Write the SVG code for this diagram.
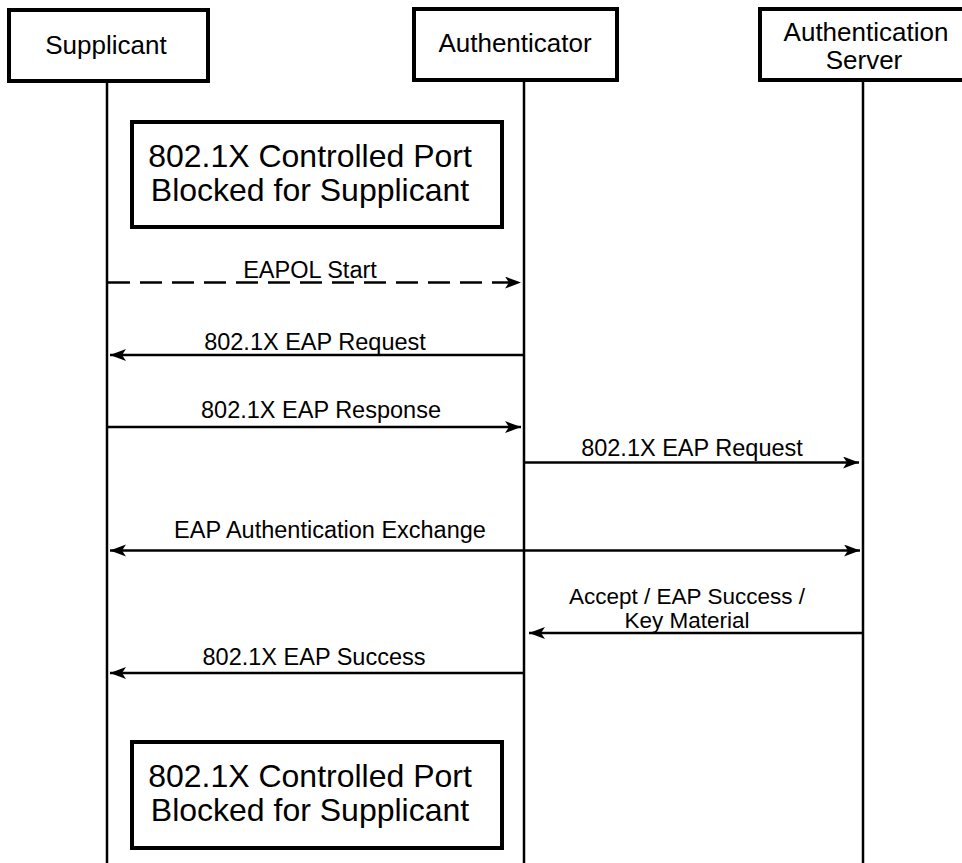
<svg xmlns="http://www.w3.org/2000/svg" width="962" height="863" viewBox="0 0 962 863">
  <style>
    .box { fill: #ffffff; stroke: #000000; stroke-width: 4; }
    .life { stroke: #000000; stroke-width: 2.5; fill: none; }
    .msg { stroke: #000000; stroke-width: 2.5; fill: none; }
    .dash { stroke-dasharray: 22 10; }
    .hdr { font-family: "Liberation Sans", Arial, sans-serif; font-size: 26px; fill: #000000; text-anchor: middle; }
    .big { font-family: "Liberation Sans", Arial, sans-serif; font-size: 32px; fill: #000000; text-anchor: middle; }
    .lbl { font-family: "Liberation Sans", Arial, sans-serif; font-size: 23.5px; fill: #000000; text-anchor: middle; }
    .lbl2 { font-family: "Liberation Sans", Arial, sans-serif; font-size: 22.5px; fill: #000000; text-anchor: middle; }
  </style>
  <defs>
    <marker id="arrow" markerWidth="18" markerHeight="14" refX="16" refY="6" orient="auto-start-reverse" markerUnits="userSpaceOnUse">
      <path d="M0,0 L16,6 L0,12 L4,6 Z" fill="#000000"/>
    </marker>
  </defs>
  <rect width="962" height="863" fill="#ffffff"/>

  <g id="lifelines">
    <line class="life" x1="107" y1="82" x2="107" y2="863"/>
    <line class="life" x1="524" y1="80" x2="524" y2="863"/>
    <line class="life" x1="863" y1="80" x2="863" y2="863"/>
  </g>

  <g id="supplicant">
    <rect class="box" x="9" y="10" width="199" height="71"/>
    <text class="hdr" x="106" y="54">Supplicant</text>
  </g>
  <g id="authenticator">
    <rect class="box" x="414" y="9" width="203" height="71"/>
    <text class="hdr" x="515" y="52">Authenticator</text>
  </g>
  <g id="auth-server">
    <rect class="box" x="760" y="9" width="206" height="71"/>
    <text class="hdr" x="866" y="41">Authentication</text>
    <text class="hdr" x="864" y="69">Server</text>
  </g>

  <g id="port-blocked-top">
    <rect class="box" x="132" y="122" width="370" height="105"/>
    <text class="big" x="310" y="167">802.1X Controlled Port</text>
    <text class="big" x="310" y="201">Blocked for Supplicant</text>
  </g>
  <g id="port-blocked-bottom">
    <rect class="box" x="132" y="742" width="370" height="106"/>
    <text class="big" x="310" y="787">802.1X Controlled Port</text>
    <text class="big" x="310" y="821">Blocked for Supplicant</text>
  </g>

  <g id="connectors">
    <line class="msg dash" x1="108" y1="282.5" x2="521" y2="282.5" marker-end="url(#arrow)"/>
    <line class="msg" x1="523" y1="355" x2="110" y2="355" marker-end="url(#arrow)"/>
    <line class="msg" x1="108" y1="427" x2="521" y2="427" marker-end="url(#arrow)"/>
    <line class="msg" x1="525" y1="462.5" x2="859" y2="462.5" marker-end="url(#arrow)"/>
    <line class="msg" x1="110" y1="550.5" x2="860" y2="550.5" marker-start="url(#arrow)" marker-end="url(#arrow)"/>
    <line class="msg" x1="862" y1="633" x2="529" y2="633" marker-end="url(#arrow)"/>
    <line class="msg" x1="523" y1="673" x2="110" y2="673" marker-end="url(#arrow)"/>
  </g>

  <g id="labels">
    <text class="lbl" x="310" y="278">EAPOL Start</text>
    <text class="lbl" x="315" y="350">802.1X EAP Request</text>
    <text class="lbl" x="321" y="418">802.1X EAP Response</text>
    <text class="lbl" x="692" y="456">802.1X EAP Request</text>
    <text class="lbl" x="330" y="538">EAP Authentication Exchange</text>
    <text class="lbl2" x="687" y="604">Accept / EAP Success /</text>
    <text class="lbl2" x="687" y="628">Key Material</text>
    <text class="lbl" x="314" y="665">802.1X EAP Success</text>
  </g>
</svg>
